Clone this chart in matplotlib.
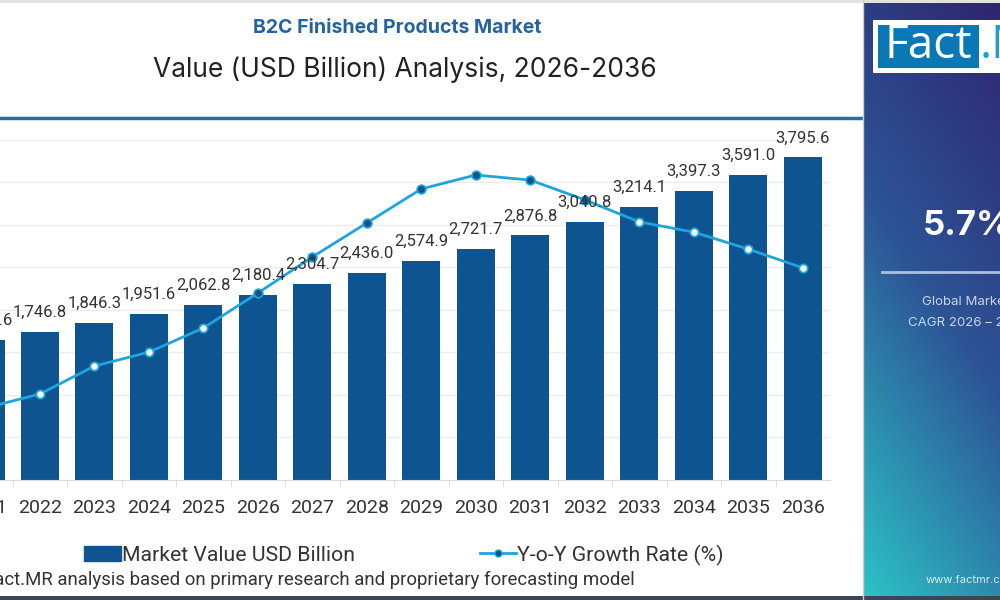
import numpy as np
import matplotlib
matplotlib.use("Agg")
import matplotlib.pyplot as plt
from matplotlib.patches import Rectangle, Patch
from matplotlib.lines import Line2D
from matplotlib.colors import LinearSegmentedColormap

# data
years = [2021, 2022, 2023, 2024, 2025, 2026, 2027, 2028, 2029, 2030, 2031, 2032, 2033, 2034, 2035, 2036]
market_value = [1652.6, 1746.8, 1846.3, 1951.6, 2062.8, 2180.4, 2304.7, 2436.0, 2574.9, 2721.7,
                2876.8, 3040.8, 3214.1, 3397.3, 3591.0, 3795.6]
# growth line (secondary, hidden scale)
yoy_growth = [2.12, 2.53, 3.35, 3.76, 4.47, 5.50, 6.56, 7.56, 8.56, 8.97, 8.82, 8.24, 7.59, 7.29, 6.79, 6.24]

title = "B2C Finished Products Market"
subtitle = "Value (USD Billion) Analysis, 2026-2036"
source = "Source: Fact.MR analysis based on primary research and proprietary forecasting model"
cagr = "5.7%"

bar_color = "#0e5490"
line_color = "#1ea4de"
dot_color = "#0f5588"

plt.rcParams["font.family"] = ["Roboto", "DejaVu Sans"]

fig = plt.figure(figsize=(10, 6), dpi=100)

# main chart, left edge runs off the canvas like the reference crop
ax = fig.add_axes([-0.0418, 0.2, 0.8718, 0.5667])
x = np.arange(len(years))
ax.bar(x, market_value, width=0.70, color=bar_color, zorder=2)
ax.set_xlim(-0.5, len(years) - 0.5)
ax.set_ylim(0, 4000)
ax.set_yticks(range(0, 4001, 500))
ax.grid(axis="y", color="#ececec", lw=1, zorder=0)
ax.set_axisbelow(True)
for s in ["top", "right", "left"]:
    ax.spines[s].set_visible(False)
ax.spines["bottom"].set_color("#d9d9d9")
ax.set_xticks(x)
ax.set_xticklabels([str(y) for y in years])
ax.set_xticks(x[:-1] + 0.5, minor=True)
ax.tick_params(axis="x", which="major", length=0, pad=14, labelsize=14, labelcolor="#333333")
ax.tick_params(axis="x", which="minor", length=5, color="#d9d9d9")
ax.tick_params(axis="y", length=0, labelleft=False)

ax2 = ax.twinx()
ax2.set_ylim(0, 10)
ax2.axis("off")
ax2.plot(x, yoy_growth, color=line_color, lw=2, marker="o", ms=6,
         mfc="white", mec=line_color, mew=1.3, zorder=3)
# points sitting above their bar show up filled
for i, g in enumerate(yoy_growth):
    py = ax2.transData.transform((i, g))[1]
    by = ax.transData.transform((i, market_value[i]))[1]
    if py > by:
        ax2.plot(i, g, "o", ms=6, mfc=dot_color, mec=line_color, mew=1, zorder=4)

for i, v in enumerate(market_value):
    ax2.annotate(f"{v:,.1f}", xy=(i, v), xycoords=ax.transData, xytext=(0, 14),
                 textcoords="offset points", ha="center", va="center",
                 fontsize=12, color="#333333", zorder=5)

# titles
fig.text(0.397, 1 - 28 / 600, title, ha="center", va="center", fontsize=14,
         fontweight="bold", color="#2563a0", family=["Inter", "DejaVu Sans"])
fig.text(0.405, 1 - 70 / 600, subtitle, ha="center", va="center", fontsize=19,
         color="#222222", family=["Inter", "DejaVu Sans"])
fig.add_artist(Line2D([0, 0.862], [1 - 118 / 600] * 2, color="#2b6f9e", lw=2.5))
fig.add_artist(Rectangle((0, 1 - 3 / 600), 1, 3 / 600, color="#e2e2e2", lw=0))

# legend + source
handles = [Patch(color=bar_color, label="Market Value USD Billion"),
           Line2D([], [], color=line_color, lw=2, marker="o", ms=5, mfc=dot_color,
                  mec=line_color, label="Y-o-Y Growth Rate (%)")]
fig.legend(handles=handles, loc="center", bbox_to_anchor=(0.404, 1 - 555 / 600), ncol=2,
           frameon=False, fontsize=15.3, handlelength=1.7, handletextpad=0.05,
           columnspacing=5.9, labelcolor="#333333")
fig.text(0.635, 1 - 580 / 600, source, ha="right", va="center", fontsize=13.4, color="#333333")

# right side panel
pan = fig.add_axes([0.863, 4 / 600, 0.137, 1 - 4 / 600])
gx, gy = np.meshgrid(np.linspace(0, 1, 60), np.linspace(0, 1, 240))
t = ((1 - gy) * 597 + (1 - gx) * 205) / 802
cmap = LinearSegmentedColormap.from_list("panel", ["#2f2570", "#2c5596", "#2dc2c6"])
pan.imshow(t, cmap=cmap, origin="lower", aspect="auto", extent=(0, 1, 0, 1))
pan.axis("off")
fig.add_artist(Line2D([0.8625, 0.8625], [0, 1], color="#cfcfcf", lw=1))

# logo
fig.add_artist(Rectangle((0.873, 1 - 73 / 600), 0.2, 53 / 600, color="white", lw=0))
fig.add_artist(Rectangle((0.878, 1 - 68 / 600), 0.101, 43 / 600, color="#0a78b4", lw=0))
fig.text(0.9285, 1 - 46 / 600, "Fact", ha="center", va="center", fontsize=33,
         color="white", family=["Open Sans", "DejaVu Sans"])
fig.text(0.980, 1 - 46 / 600, ".MR", ha="left", va="center", fontsize=33,
         color="#1a9fd0", family=["Open Sans", "DejaVu Sans"])

fig.text(0.923, 1 - 226 / 600, cagr, ha="left", va="center", fontsize=25,
         fontweight="bold", color="white", family=["Inter", "DejaVu Sans"])
fig.add_artist(Line2D([0.882, 1.0], [1 - 272 / 600] * 2, color="#a9c0e0", lw=2))
fig.text(0.922, 1 - 302 / 600, "Global Market Value", ha="left", va="center",
         fontsize=9.5, color="#c8d5e8", family=["Inter", "DejaVu Sans"])
fig.text(0.908, 1 - 323 / 600, "CAGR 2026 \u2013 2036", ha="left", va="center",
         fontsize=9.5, color="#c8d5e8", family=["Inter", "DejaVu Sans"])
fig.text(0.926, 1 - 580 / 600, "www.factmr.com", ha="left", va="center",
         fontsize=8, color="#dbe9f2", family=["Inter", "DejaVu Sans"])

fig.add_artist(Rectangle((0, 0), 1, 4 / 600, color="#3a4656", lw=0))

fig.savefig("out.png", dpi=100)
